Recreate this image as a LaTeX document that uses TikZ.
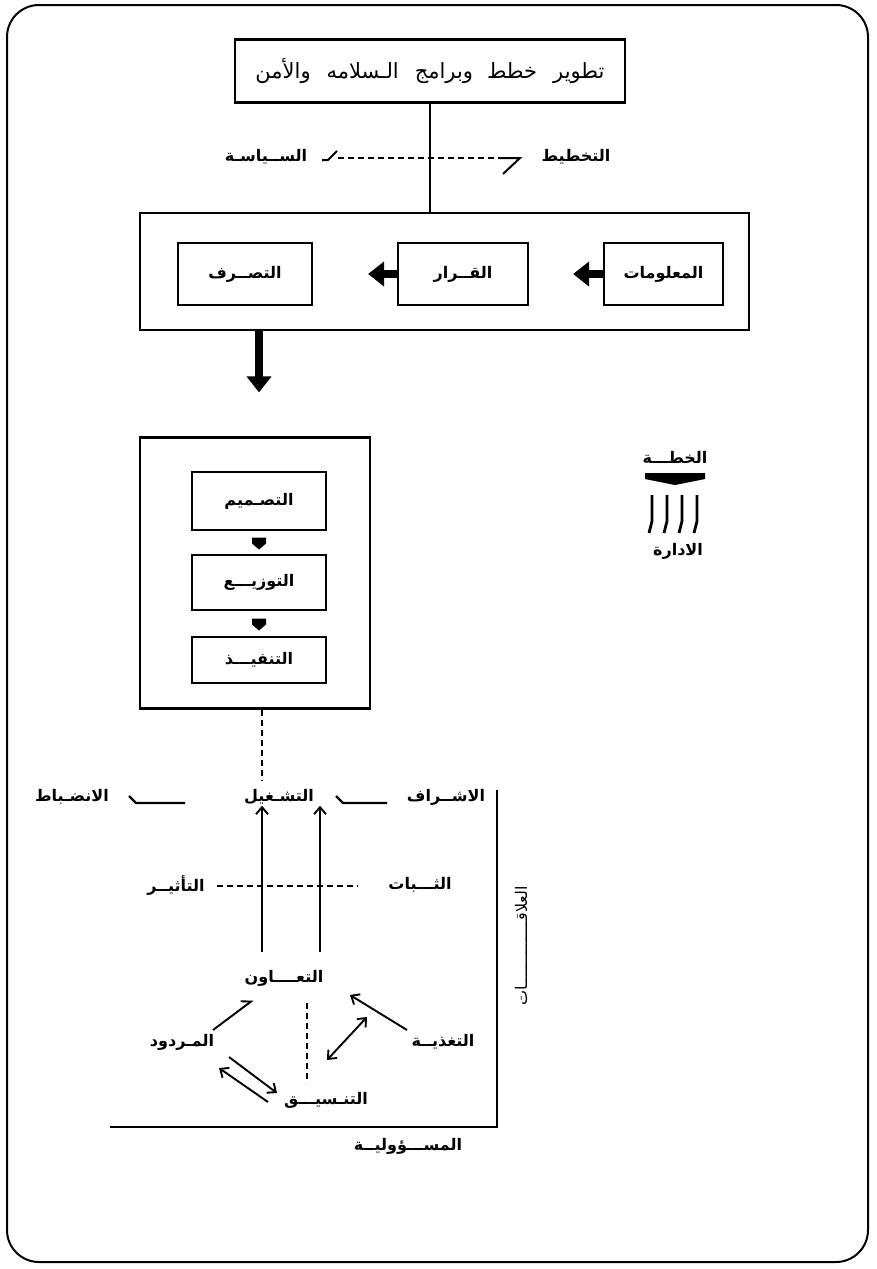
\documentclass[tikz,border=0pt]{standalone}
\usepackage{fontspec}
\usetikzlibrary{arrows.meta,calc}
\TeXXeTstate=1
\newfontfamily\arabicfont[Script=Arabic]{DejaVu Sans}
\newcommand{\AR}[1]{\beginR #1\endR}
\tikzset{
  frame/.style={draw, line width=2pt, rounded corners=32pt},
  bx/.style={draw, line width=2.2pt, inner sep=0pt},
  lbl/.style={font=\arabicfont\bfseries\fontsize{16}{18}\selectfont, inner sep=1pt},
  lblr/.style={font=\arabicfont\fontsize{16}{18}\selectfont, inner sep=1pt},
  thinln/.style={line width=1.6pt},
  dsh/.style={line width=1.7pt, dash pattern=on 6pt off 4pt},
  fatarrow/.style={line width=8pt, -{Triangle[length=16pt,width=24pt]}},
  barb/.style={line width=1.9pt, -{Straight Barb[length=7pt,width=12pt]}},
  barbs/.style={line width=1.9pt, {Straight Barb[length=7pt,width=12pt]}-{Straight Barb[length=7pt,width=12pt]}},
  harp/.style={line width=1.9pt, -{Straight Barb[left,length=8pt,width=13pt]}},
  yeh/.style={line width=2.4pt},
}
\begin{document}
\begin{tikzpicture}[x=1pt,y=-1pt]
\useasboundingbox (0,0) rectangle (876,1269);
\fill[white] (0,0) rectangle (876,1269);
% outer frame
\draw[frame] (7,5) rectangle (868,1262);

% top box
\node[bx, minimum width=390pt, minimum height=63pt, font=\arabicfont\fontsize{21}{24}\selectfont] (top) at (430,71)
  {\AR{تطوير\hspace{16pt}خطط\hspace{14pt}وبرامج\hspace{16pt}الـسلامه\hspace{16pt}والأمن}};

% middle box
\node[bx, minimum width=609pt, minimum height=117pt] (mid) at (444.5,271.5) {};
\draw[thinln] (top.south) -- (top.south |- mid.north);

% policy / planning
\node[lbl] (pol) at (266,157) {\AR{الســياسـة}};
\node[lbl] (plan) at (576,157) {\AR{التخطيط}};
\coordinate (dl) at (338,158);
\coordinate (dr) at (498,158);
\draw[dsh] (dl) -- (dr);
\draw[line width=2pt] (322,160) -- (328,160) -- (337,151);
\draw[line width=2pt] (498,158) -- (520,158) -- (503,174);

% inner boxes of middle box
\node[bx, lbl, minimum width=134pt, minimum height=62pt] (act) at (245,274) {\AR{التصــرف}};
\node[bx, lbl, minimum width=130pt, minimum height=62pt] (dec) at (463,274) {\AR{القــرار}};
\node[bx, lbl, minimum width=119pt, minimum height=62pt] (info) at (663.5,274) {\AR{المعلومات}};
\draw[fatarrow, shorten >=55pt] (dec.west) -- (act.east);
\draw[fatarrow, shorten >=44pt] (info.west) -- (dec.east);

% stack
\node[bx, minimum width=230pt, minimum height=271pt] (stack) at (255,573) {};
\path (mid.south) ++(-185.5,0) coordinate (dtop);
\draw[fatarrow, shorten >=44pt] (dtop) -- (dtop |- stack.north);

\node[bx, lbl, minimum width=134pt, minimum height=58pt] (s1) at (259,501) {\AR{التصـميم}};
\node[bx, lbl, minimum width=134pt, minimum height=55pt] (s2) at (259,582.5) {\AR{التوزيـــع}};
\node[bx, lbl, minimum width=134pt, minimum height=46pt] (s3) at (259,660) {\AR{التنفيـــذ}};
\fill ($(s1.south)!0.5!(s2.north)$) ++(-7,-5) -- ++(14,0) -- ++(0,6) -- ++(-7,6) -- ++(-7,-6) -- cycle;
\fill ($(s2.south)!0.5!(s3.north)$) ++(-7,-5) -- ++(14,0) -- ++(0,6) -- ++(-7,6) -- ++(-7,-6) -- cycle;

% bottom row
\node[lbl] (disc) at (72,797) {\AR{الانضـباط}};
\node[lbl] (op) at (279,797) {\AR{التشـغيل}};
\node[lbl] (sup) at (446,797) {\AR{الاشــراف}};
\path (stack.south) ++(7,0) coordinate (dashtop);
\draw[dsh] (dashtop) -- (262,780);
\draw[yeh] (387,803) -- (343,803) -- (336,796);
\draw[yeh] (185,803) -- (136,803) -- (129,796);

% stability / influence
\node[lbl] (infl) at (176,885) {\AR{التأثيــر}};
\node[lbl] (stab) at (420,885) {\AR{الثـــبات}};
\draw[dsh] (217,886) -- (358,886);

% cooperation
\node[lbl] (coop) at (284,978) {\AR{التعــــاون}};
\node[lbl] (ret) at (182,1042) {\AR{المـردود}};
\node[lbl] (feed) at (443,1042) {\AR{التغذيــة}};
\node[lbl] (coord) at (326,1100) {\AR{التنـسيـــق}};

\coordinate (u1) at (262,952); \coordinate (u2) at (320,952);
\draw[barb] (u1) -- (u1 |- op.south);
\draw[barb] (u2) -- (u2 |- op.south);

\draw[harp] (213,1030) -- (253,1000);
\draw[barb] (407,1030) -- (350,995);
\draw[barbs] (327,1060) -- (367,1017);
\draw[barb] (229,1057) -- (277,1093);
\draw[barb] (268,1102) -- (219,1068);
\draw[dsh] (307,1003) -- (307,1083);

% axes
\draw[line width=2.2pt] (497,790) -- (497,1127) -- (110,1127);
\node[lblr, rotate=90] (rel) at (521,946) {\AR{العلاقــــــــــــــات}};
\node[lbl] (resp) at (408,1146) {\AR{المســـؤوليــة}};

% right symbol
\node[lbl] (plan2) at (675,457) {\AR{الخطـــة}};
\fill (645,473) -- (705,473) -- (705,479) -- (675,485) -- (645,479) -- cycle;
\foreach \dx in {-23,-8,7,22} {
  \draw[line width=2.8pt] (675+\dx,495) -- (675+\dx,521) -- (672+\dx,533);
}
\node[lbl] (mgmt) at (678,551) {\AR{الادارة}};
\end{tikzpicture}
\end{document}
